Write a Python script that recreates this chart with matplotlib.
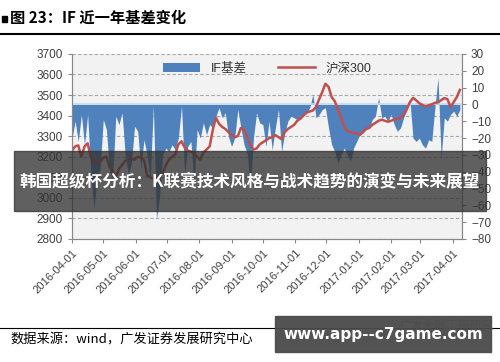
# IF basis vs CSI 300 chart, Apr 2016 - Apr 2017

import numpy as np
import pandas as pd
import matplotlib
matplotlib.use('Agg')
import matplotlib.pyplot as plt
import matplotlib.dates as mdates
from matplotlib.patches import Rectangle

plt.rcParams['font.family'] = ['Liberation Sans', 'Noto Sans CJK SC', 'DejaVu Sans']

# sample dates (every 3 calendar days)
dates = pd.date_range('2016-04-01', periods=125, freq='3D')

# 沪深300 close (left axis)
hs300 = [3230, 3250, 3255, 3200, 3250, 3265, 3200, 3175, 3170, 3175,
         3195, 3200, 3150, 3130, 3100, 3140, 3160, 3180, 3185, 3190,
         3185, 3200, 3195, 3185, 3110, 3100, 3095, 3087, 3110, 3120,
         3160, 3185, 3200, 3210, 3260, 3275, 3245, 3230, 3225, 3215,
         3200, 3185, 3220, 3235, 3250, 3330, 3390, 3360, 3345, 3335,
         3320, 3305, 3295, 3300, 3340, 3330, 3300, 3255, 3235, 3240,
         3260, 3270, 3280, 3290, 3295, 3305, 3295, 3285, 3320, 3335,
         3345, 3355, 3375, 3385, 3400, 3415, 3420, 3425, 3442, 3480,
         3515, 3555, 3540, 3490, 3470, 3430, 3390, 3345, 3325, 3320,
         3315, 3315, 3305, 3320, 3335, 3340, 3355, 3365, 3375, 3380,
         3375, 3370, 3375, 3380, 3385, 3390, 3400, 3430, 3465, 3486,
         3475, 3460, 3452, 3445, 3450, 3455, 3462, 3465, 3475, 3485,
         3480, 3442, 3465, 3490, 3525]

# IF basis (right axis)
basis = [-20, -10, -22, -6, -24, -6, -40, -62, -45, -38,
         -9, -15, -40, -44, -7, -12, -5, -30, -42, -35,
         -13, -16, -38, -21, -30, -45, -1, -68, -55, -30,
         -26, -28, -24, -27, -20, -1, -41, -25, -22, -47,
         -15, -20, -11, -18, -12, -14, -7, -2, -8, -5,
         -19, -25, -20, -3, -14, -24, -29, -50, -20, -5,
         -11, -12, -25, -10, -27, -14, -3, -28, -17, -10,
         -7, -8, -9, -7, -6, -5, -2, 6, -8, -6,
         -3, -2, -14, -24, -28, -35, -30, -26, -30, -34,
         -26, -22, -18, -17, -15, -14, -9, -7, 4, -8,
         -7, -10, -6, -12, -16, -14, -8, -1, 3, -20,
         -22, -20, -24, -26, -21, -22, -2, 16, -32, -8,
         -10, -6, -4, -7, -3]

month_ticks = pd.date_range('2016-04-01', '2017-04-01', freq='MS')

blue = '#4f81bd'
red = '#c0504d'

fig = plt.figure(figsize=(5, 3.62), dpi=100)
ax = fig.add_axes([0.144, 0.340, 0.780, 0.511])
ax.set_facecolor('#f2f2f2')
ax2 = ax.twinx()

ax.set_ylim(2800, 3700)
ax.set_yticks(np.arange(2800, 3701, 100))
ax.grid(axis='y', color='#a6a6a6', ls=(0, (3, 2)), lw=0.8)
ax.set_axisbelow(True)

# basis area on the right axis, index line drawn above it
ax2.fill_between(dates, basis, 0, color=blue, lw=0, label='IF基差')
ax2.axhline(0, color='#c5d9f1', lw=1.2)
ax2.plot(dates, hs300, color=red, lw=1.8, transform=ax.transData, label='沪深300')
ax2.set_ylim(-80, 30)
ax2.set_yticks(np.arange(-80, 31, 10))
ax.set_xlim(pd.Timestamp('2016-04-01'), pd.Timestamp('2017-04-10'))

ax.set_xticks(month_ticks)
ax.xaxis.set_major_formatter(mdates.DateFormatter('%Y-%m-%d'))
for lab in ax.get_xticklabels():
    lab.set_rotation(45)
    lab.set_ha('right')
    lab.set_rotation_mode('anchor')

for a in (ax, ax2):
    a.tick_params(direction='out', length=3, color='#888888', labelsize=8.5,
                  labelcolor='#404040')
    a.spines['top'].set_visible(False)
    for s in ('left', 'right', 'bottom'):
        a.spines[s].set_color('#888888')
        a.spines[s].set_linewidth(0.8)
ax.tick_params(axis='x', labelsize=8)

h, l = ax2.get_legend_handles_labels()
ax2.legend(h, l, loc='upper center', ncol=2, frameon=False, fontsize=9,
           bbox_to_anchor=(0.5, 1.0), handlelength=3.0, columnspacing=2.5,
           borderaxespad=0.3, labelcolor='#333333')

# page title and source
fig.patches.append(Rectangle((0.004, 0.94), 0.01, 0.016, transform=fig.transFigure,
                             color='black'))
fig.text(0.02, 0.952, '图 23：IF 近一年基差变化', fontsize=11, fontweight='bold',
         va='center', family=['Noto Sans CJK SC'])
fig.add_artist(plt.Line2D([0, 1], [0.906, 0.906], transform=fig.transFigure,
                          color='black', lw=1.5))
fig.add_artist(plt.Line2D([0, 1], [0.094, 0.094], transform=fig.transFigure,
                          color='black', lw=0.8))
fig.text(0.02, 0.061, '数据来源：wind，广发证券发展研究中心', fontsize=9.5,
         va='center', family=['Noto Sans CJK SC'])
fig.text(0.80, 0.1, '广发金融工程研究', fontsize=8.5, color='#888888',
         va='center', family=['Noto Sans CJK SC'])

# overlay banners
fig.patches.append(Rectangle((0.028, 0.417), 0.944, 0.166, transform=fig.transFigure,
                             color='#333333', alpha=0.78, zorder=10))
fig.text(0.5, 0.5, '韩国超级杯分析：K联赛技术风格与战术趋势的演变与未来展望',
         fontsize=12, fontweight='bold', color='white', ha='center', va='center',
         family=['Noto Sans CJK SC'], zorder=11)
fig.patches.append(Rectangle((0.55, 0.028), 0.432, 0.099, transform=fig.transFigure,
                             color='#4a4a4a', alpha=0.95, zorder=10))
fig.text(0.766, 0.075, 'www.app--c7game.com', fontsize=11, fontweight='bold',
         color='white', ha='center', va='center', family=['DejaVu Sans'], zorder=11)

fig.savefig('out.png', dpi=100)
